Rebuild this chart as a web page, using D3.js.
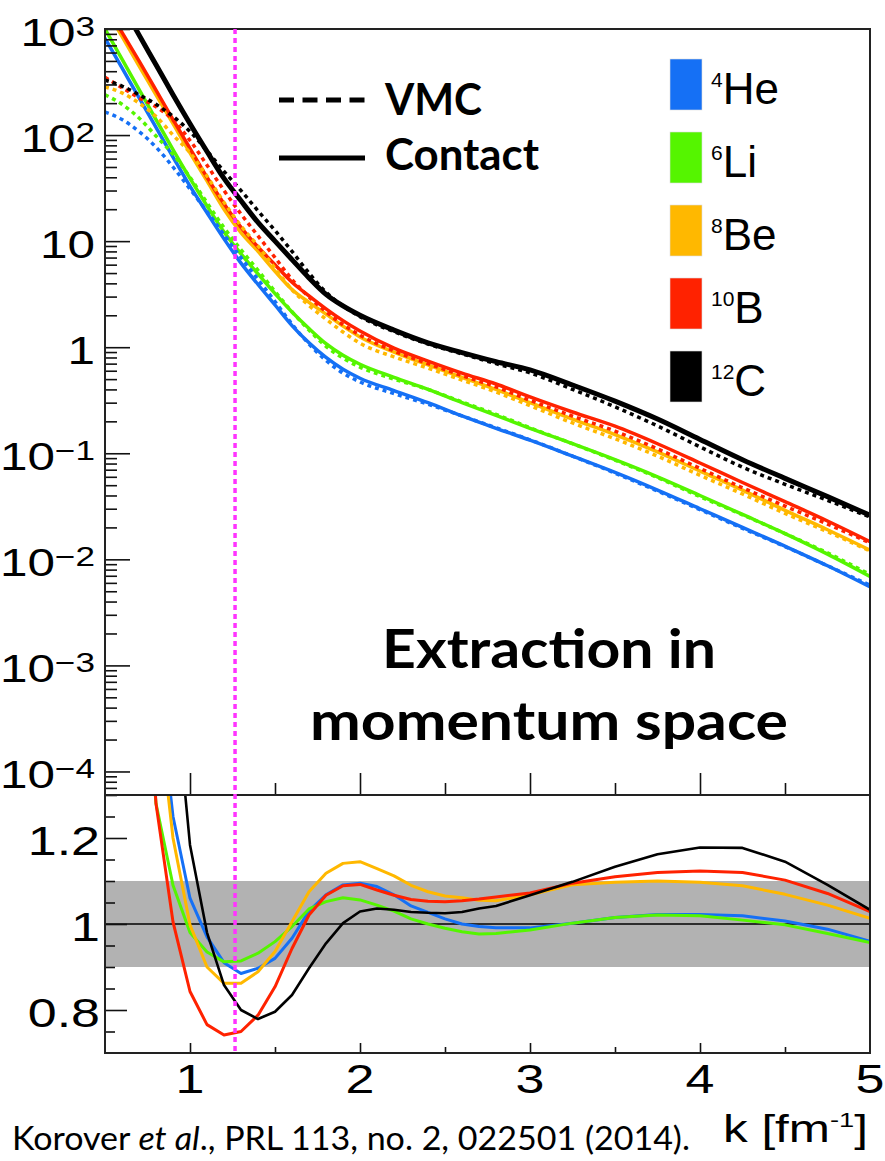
<!DOCTYPE html>
<html><head><meta charset="utf-8">
<script src="https://cdn.jsdelivr.net/npm/d3@7"></script>
<style>body{margin:0;background:#fff}svg{display:block}</style>
</head><body>
<svg id="c" width="885" height="1161"></svg>
<script>
// ---------- data ----------
const nuclei = ["He", "Li", "Be", "B", "C"];
const massNumbers = ["4", "6", "8", "10", "12"];
const colors = ["#1570f5", "#55f500", "#ffb800", "#ff2200", "#000000"];

const kTop = [0.5,0.6,0.7,0.8,0.9,1.0,1.1,1.2,1.3,1.4,1.5,1.6,1.7,1.8,1.9,2.0,2.2,2.4,2.6,2.8,3.0,3.25,3.5,3.75,4.0,4.25,4.5,4.75,5.0];

// Contact (solid) n(k)
const contactHe = [820,430,225,118,62,33,18.5,10.5,6.2,3.9,2.5,1.6,1.1,0.80,0.62,0.51,0.39,0.30,0.225,0.172,0.133,0.094,0.066,0.045,0.030,0.020,0.0133,0.0087,0.0055];
const contactLi = [1000,520,270,140,73,39,21.5,12.2,7.6,4.9,3.2,2.15,1.5,1.08,0.84,0.69,0.52,0.40,0.30,0.228,0.172,0.123,0.087,0.060,0.040,0.0265,0.0175,0.0112,0.0069];
const contactBe = [1600,850,450,240,128,68,37,20,12,8.0,5.2,3.5,2.65,2.05,1.58,1.25,0.90,0.68,0.52,0.40,0.30,0.21,0.15,0.103,0.068,0.045,0.029,0.019,0.0122];
const contactB  = [1700,930,500,265,140,75,40,22.5,13.5,8.8,6.0,4.1,3.05,2.3,1.78,1.42,0.98,0.74,0.57,0.45,0.34,0.245,0.18,0.123,0.081,0.053,0.035,0.023,0.0147];
const contactC  = [3300,1700,880,460,240,128,70,39,24,15,10,6.7,4.5,3.15,2.45,2.0,1.45,1.1,0.89,0.73,0.61,0.44,0.31,0.21,0.135,0.087,0.058,0.039,0.026];

// VMC (dashed) n(k)
const vmcHe = [165,140,108,77,50,31,19,11.5,7.0,4.35,2.7,1.65,1.07,0.75,0.57,0.47,0.365,0.29,0.225,0.174,0.134,0.094,0.065,0.044,0.0294,0.0196,0.0132,0.0087,0.0057];
const vmcLi = [240,195,145,98,66,40,23,13.4,8.3,5.3,3.35,2.16,1.45,1.02,0.79,0.65,0.50,0.40,0.305,0.233,0.174,0.123,0.086,0.059,0.039,0.0263,0.0175,0.0115,0.0072];
const vmcBe = [285,250,200,150,100,68,41,23.2,13.9,9.0,5.55,3.48,2.47,1.84,1.39,1.09,0.81,0.635,0.49,0.378,0.281,0.193,0.137,0.094,0.062,0.0413,0.0271,0.0182,0.012];
const vmcB  = [350,280,225,185,139,89,52,30,18,11.2,7.0,4.35,2.98,2.16,1.63,1.3,0.92,0.70,0.54,0.423,0.316,0.224,0.162,0.11,0.072,0.0473,0.0318,0.0215,0.0143];
const vmcC  = [330,290,240,195,150,108,71,45.5,30,19.3,12.6,8.0,5.0,3.3,2.45,1.94,1.40,1.07,0.865,0.70,0.572,0.40,0.274,0.181,0.115,0.074,0.051,0.036,0.025];

// Ratio Contact / VMC (lower panel)
const kRatio = [0.7,0.8,0.9,1.0,1.1,1.2,1.3,1.4,1.5,1.6,1.7,1.8,1.9,2.0,2.1,2.2,2.3,2.4,2.5,2.6,2.7,2.8,3.0,3.25,3.5,3.75,4.0,4.25,4.5,4.75,5.0];
const ratioHe = [2.0,1.6,1.25,1.06,0.97,0.91,0.885,0.897,0.92,0.967,1.03,1.068,1.091,1.095,1.087,1.068,1.042,1.027,1.012,1.0,0.994,0.991,0.991,1.002,1.015,1.022,1.022,1.019,1.007,0.988,0.96];
const ratioLi = [1.75,1.28,1.09,0.98,0.935,0.912,0.914,0.932,0.959,0.994,1.035,1.052,1.061,1.056,1.044,1.03,1.012,1.0,0.99,0.982,0.977,0.978,0.986,1.002,1.015,1.021,1.019,1.009,0.998,0.978,0.957];
const ratioBe = [2.0,1.55,1.2,0.998,0.9,0.862,0.862,0.889,0.936,1.005,1.075,1.118,1.141,1.145,1.129,1.112,1.09,1.075,1.065,1.061,1.055,1.054,1.068,1.091,1.097,1.1,1.097,1.089,1.069,1.044,1.013];
const ratioB  = [1.9,1.28,1.005,0.843,0.766,0.742,0.75,0.788,0.854,0.943,1.021,1.067,1.089,1.092,1.079,1.067,1.057,1.053,1.052,1.054,1.058,1.063,1.072,1.095,1.11,1.12,1.123,1.12,1.102,1.071,1.029];
const ratioC  = [2.4,2.0,1.6,1.184,0.98,0.858,0.80,0.779,0.796,0.835,0.897,0.955,1.002,1.029,1.036,1.033,1.028,1.026,1.025,1.028,1.036,1.042,1.067,1.098,1.133,1.162,1.178,1.177,1.145,1.091,1.033];

const kFermi = 1.265;
const bandLow = 0.9, bandHigh = 1.1;

const topTickValues = [1e3, 1e2, 10, 1, 1e-1, 1e-2, 1e-3, 1e-4];
const topTickBase = ["10", "10", "10", "1", "10", "10", "10", "10"];
const topTickExp  = ["3", "2", "", "", "\u22121", "\u22122", "\u22123", "\u22124"];
const lowTickValues = [1.2, 1.0, 0.8];
const lowTickLabels = ["1.2", "1", "0.8"];
const xTickValues = [1, 2, 3, 4, 5];
const xTickLabels = ["1", "2", "3", "4", "5"];

const contacts = [contactHe, contactLi, contactBe, contactB, contactC];
const vmcs = [vmcHe, vmcLi, vmcBe, vmcB, vmcC];
const ratios = [ratioHe, ratioLi, ratioBe, ratioB, ratioC];

// ---------- layout ----------
const L = 105, R = 870, T = 29, MID = 795, B = 1053;
const svg = d3.select("#c");
const x = d3.scaleLinear([0.5, 5], [L, R]);
const yTop = d3.scaleLog([6e-5, 1000], [MID, T]);
const yLow = d3.scaleLinear([0.7, 1.3], [B, MID]);

const defs = svg.append("defs");
defs.append("clipPath").attr("id", "clipTop").append("rect")
  .attr("x", L).attr("y", T).attr("width", R - L).attr("height", MID - T);
defs.append("clipPath").attr("id", "clipLow").append("rect")
  .attr("x", L).attr("y", MID).attr("width", R - L).attr("height", B - MID);

// grey band lower panel
svg.append("rect").attr("x", L).attr("width", R - L)
  .attr("y", yLow(bandHigh)).attr("height", yLow(bandLow) - yLow(bandHigh))
  .attr("fill", "#b2b2b2");
svg.append("line").attr("x1", L).attr("x2", R).attr("y1", yLow(1)).attr("y2", yLow(1))
  .attr("stroke", "#000").attr("stroke-width", 1.5);

// ---------- curves top ----------
const gTop = svg.append("g").attr("clip-path", "url(#clipTop)");
const lineTop = d3.line().x(d => x(d[0])).y(d => yTop(d[1])).curve(d3.curveMonotoneX);
nuclei.forEach((n, i) => {
  gTop.append("path").datum(kTop.map((k, j) => [k, contacts[i][j]]))
    .attr("d", lineTop).attr("fill", "none").attr("stroke", colors[i])
    .attr("stroke-width", i === 4 ? 5 : 3.5);
});
nuclei.forEach((n, i) => {
  gTop.append("path").datum(kTop.map((k, j) => [k, vmcs[i][j]]))
    .attr("d", lineTop).attr("fill", "none").attr("stroke", colors[i])
    .attr("stroke-width", 3.5).attr("stroke-dasharray", "4,4");
});

// ---------- curves low ----------
const gLow = svg.append("g").attr("clip-path", "url(#clipLow)");
const lineLow = d3.line().x(d => x(d[0])).y(d => yLow(d[1]));
nuclei.forEach((n, i) => {
  gLow.append("path").datum(kRatio.map((k, j) => [k, ratios[i][j]]))
    .attr("d", lineLow).attr("fill", "none").attr("stroke", colors[i])
    .attr("stroke-width", i === 4 ? 2.6 : 3).attr("stroke-linejoin", "round");
});

// ---------- axes ----------
function styleAxis(g) {
  g.select(".domain").remove();
  g.selectAll(".tick line").attr("stroke", "#111").attr("stroke-width", 1.6);
  g.selectAll(".tick text").remove();
}
const minorTop = [];
for (let e = -5; e <= 2; e++) for (let m = 2; m <= 9; m++) {
  const v = m * Math.pow(10, e);
  if (v >= 6e-5 && v <= 1000) minorTop.push(v);
}
svg.append("g").attr("transform", `translate(${L},0)`)
  .call(d3.axisLeft(yTop).tickValues(minorTop).tickSize(-12)).call(styleAxis);
svg.append("g").attr("transform", `translate(${L},0)`)
  .call(d3.axisLeft(yTop).tickValues(topTickValues).tickSize(-25)).call(styleAxis);
svg.append("g").attr("transform", `translate(0,${MID})`)
  .call(d3.axisBottom(x).tickValues([1, 2, 3, 4]).tickSize(-22)).call(styleAxis);
svg.append("g").attr("transform", `translate(0,${MID})`)
  .call(d3.axisBottom(x).tickValues([1.5, 2.5, 3.5, 4.5]).tickSize(-12)).call(styleAxis);

svg.append("g").attr("transform", `translate(${L},0)`)
  .call(d3.axisLeft(yLow).tickValues(lowTickValues).tickSize(-22)).call(styleAxis);
svg.append("g").attr("transform", `translate(${L},0)`)
  .call(d3.axisLeft(yLow).tickValues([0.75, 0.85, 0.9, 0.95, 1.05, 1.1, 1.15, 1.25]).tickSize(-10)).call(styleAxis);
svg.append("g").attr("transform", `translate(0,${B})`)
  .call(d3.axisBottom(x).tickValues([1, 2, 3, 4]).tickSize(-10)).call(styleAxis);
svg.append("g").attr("transform", `translate(0,${B})`)
  .call(d3.axisBottom(x).tickValues([1.5, 2.5, 3.5, 4.5]).tickSize(-6)).call(styleAxis);

// frames
svg.append("rect").attr("x", L).attr("y", T).attr("width", R - L).attr("height", MID - T)
  .attr("fill", "none").attr("stroke", "#222").attr("stroke-width", 2);
svg.append("rect").attr("x", L).attr("y", MID).attr("width", R - L).attr("height", B - MID)
  .attr("fill", "none").attr("stroke", "#222").attr("stroke-width", 2);

// magenta k_F line
svg.append("line").attr("x1", x(kFermi)).attr("x2", x(kFermi)).attr("y1", T).attr("y2", B)
  .attr("stroke", "#ff33ff").attr("stroke-width", 3.5).attr("stroke-dasharray", "5,4");

// ---------- tick labels ----------
const SX = 1.3;
const AX_FONT = "'Liberation Sans', Arial, Helvetica, sans-serif";
topTickValues.forEach((v, i) => {
  const g = svg.append("g").attr("transform", `translate(95,${yTop(v) + 17}) scale(${SX},1)`);
  const t = g.append("text").attr("text-anchor", "end").attr("font-family", AX_FONT)
    .attr("font-size", 38).attr("fill", "#000");
  t.append("tspan").text(topTickBase[i]);
  if (topTickExp[i]) t.append("tspan").attr("font-size", 27).attr("dy", -10).text(topTickExp[i]);
});
lowTickValues.forEach((v, i) => {
  svg.append("g").attr("transform", `translate(100,${yLow(v) + 17}) scale(${SX},1)`)
    .append("text").attr("text-anchor", "end").attr("font-family", AX_FONT)
    .attr("font-size", 40).attr("fill", "#000").text(lowTickLabels[i]);
});
xTickValues.forEach((v, i) => {
  svg.append("g").attr("transform", `translate(${x(v)},1093) scale(${SX},1)`)
    .append("text").attr("text-anchor", "middle").attr("font-family", AX_FONT)
    .attr("font-size", 40).attr("fill", "#000").text(xTickLabels[i]);
});
{
  const t = svg.append("g").attr("transform", `translate(868,1142) scale(${SX},1)`)
    .append("text").attr("text-anchor", "end").attr("font-family", AX_FONT)
    .attr("font-size", 38).attr("fill", "#000");
  t.append("tspan").text("k [fm");
  t.append("tspan").attr("font-size", 21).attr("dy", -15).text("-1");
  t.append("tspan").attr("dy", 15).text("]");
}

// ---------- legends ----------
const LEG_FONT = "Lato, 'Open Sans', sans-serif";
svg.append("line").attr("x1", 279).attr("x2", 365).attr("y1", 100).attr("y2", 100)
  .attr("stroke", "#000").attr("stroke-width", 5).attr("stroke-dasharray", "15,8.5");
svg.append("line").attr("x1", 279).attr("x2", 365).attr("y1", 158).attr("y2", 158)
  .attr("stroke", "#000").attr("stroke-width", 5);
svg.append("text").attr("x", 385).attr("y", 115).attr("font-family", LEG_FONT)
  .attr("font-weight", "bold").attr("font-size", 43).attr("textLength", 97)
  .attr("lengthAdjust", "spacingAndGlyphs").text("VMC");
svg.append("text").attr("x", 385).attr("y", 170).attr("font-family", LEG_FONT)
  .attr("font-weight", "bold").attr("font-size", 43).attr("textLength", 154)
  .attr("lengthAdjust", "spacingAndGlyphs").text("Contact");

const boxTops = [59, 132, 205, 278, 351];
nuclei.forEach((n, i) => {
  svg.append("rect").attr("x", 670).attr("y", boxTops[i]).attr("width", 32).attr("height", 51)
    .attr("fill", colors[i]).attr("stroke", "#ddd").attr("stroke-width", 0.6);
  const t = svg.append("text").attr("x", 711).attr("y", boxTops[i] + 44.5)
    .attr("font-family", AX_FONT).attr("font-size", 44).attr("fill", "#000");
  t.append("tspan").attr("font-size", 21).attr("dy", -16.5).text(massNumbers[i]);
  t.append("tspan").attr("dy", 16.5).text(n);
});

// ---------- annotation texts ----------
svg.append("text").attr("x", 549).attr("y", 668).attr("text-anchor", "middle")
  .attr("font-family", LEG_FONT).attr("font-weight", "bold").attr("font-size", 54)
  .attr("textLength", 334).attr("lengthAdjust", "spacingAndGlyphs").text("Extraction in");
svg.append("text").attr("x", 549).attr("y", 740).attr("text-anchor", "middle")
  .attr("font-family", LEG_FONT).attr("font-weight", "bold").attr("font-size", 54)
  .attr("textLength", 478).attr("lengthAdjust", "spacingAndGlyphs").text("momentum space");

{
  const t = svg.append("text").attr("x", 12).attr("y", 1150).attr("font-family", LEG_FONT)
    .attr("font-size", 33).attr("fill", "#000").attr("textLength", 678)
    .attr("lengthAdjust", "spacingAndGlyphs");
  t.append("tspan").text("Korover ");
  t.append("tspan").attr("font-style", "italic").text("et al");
  t.append("tspan").text("., PRL 113, no. 2, 022501 (2014).");
}
</script>
</body></html>
